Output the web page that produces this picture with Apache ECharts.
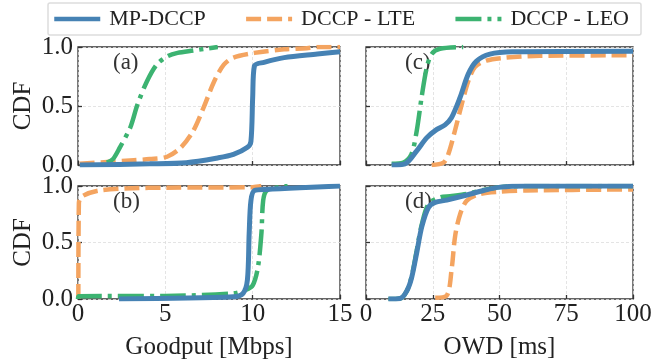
<!DOCTYPE html>
<html>
<head>
<meta charset="utf-8">
<script src="https://cdn.jsdelivr.net/npm/echarts@6/dist/echarts.min.js"></script>
<style>
  html, body { margin: 0; padding: 0; background: #fff; }
  #chart { width: 662px; height: 361px; }
</style>
</head>
<body>
<div id="chart"></div>
<script>
var myChart = echarts.init(document.getElementById('chart'));

var names = ['MP-DCCP', 'DCCP - LTE', 'DCCP - LEO'];
var colors = ['#4682b4', '#f4a460', '#3cb371'];
var panelTags = ['(a)', '(c)', '(b)', '(d)'];
var goodputTicks = [0, 5, 10, 15];
var owdTicks = [0, 25, 50, 75, 100];

// (a) goodput, first scenario  [Mbps, CDF]
var goodputA_mp = [[0.1,0],[4.1,0.01],[6.2,0.02],[8.0,0.06],[8.9,0.09],[9.7,0.15],[9.9,0.2],[10.0,0.57],[10.1,0.84],[10.65,0.87],[11.8,0.91],[13.7,0.94],[15,0.96]];
var goodputA_lte = [[0.1,0.01],[3.2,0.04],[4.1,0.05],[5.1,0.07],[5.9,0.15],[6.6,0.29],[7.2,0.49],[7.8,0.71],[8.35,0.85],[8.9,0.91],[10.1,0.95],[11.8,0.98],[13.1,0.99],[13.8,1],[15,1]];
var goodputA_leo = [[1.65,0.02],[2.0,0.05],[2.4,0.15],[3.0,0.32],[3.4,0.51],[3.95,0.71],[4.5,0.85],[5.1,0.92],[5.7,0.95],[6.6,0.97],[7.5,0.99],[8,1]];

// (b) goodput, second scenario
var goodputB_mp = [[2.35,0],[8.9,0.02],[9.45,0.05],[9.7,0.17],[9.8,0.58],[9.9,0.87],[10.1,0.96],[10.8,0.97],[12.7,0.985],[15,1]];
var goodputB_lte = [[0.02,0],[0.05,0.85],[0.25,0.91],[1.2,0.96],[3.1,0.98],[5.0,0.985],[10,0.99],[10.5,1]];
var goodputB_leo = [[0,0],[0.05,0.025],[5,0.027],[8.9,0.05],[9.6,0.08],[10.0,0.12],[10.3,0.28],[10.5,0.58],[10.6,0.87],[10.8,0.96],[11.5,0.99],[12,1]];

// (c) OWD, first scenario  [ms, CDF]
var owdC_mp = [[9.6,0],[14.6,0.01],[19,0.12],[22.7,0.23],[26.4,0.3],[29.6,0.34],[32,0.4],[35.2,0.57],[38.3,0.77],[41.4,0.88],[46.4,0.94],[55,0.96],[100,0.965]];
var owdC_lte = [[24.6,0],[29,0.02],[30.8,0.09],[33.3,0.29],[35.8,0.51],[38.3,0.71],[40.8,0.83],[45.1,0.885],[52.6,0.91],[65,0.925],[100,0.93]];
var owdC_leo = [[9.6,0.01],[14,0.02],[17,0.09],[19,0.29],[20.8,0.57],[22.7,0.82],[24.6,0.94],[27.7,0.985],[36.4,1]];

// (d) OWD, second scenario
var owdD_mp = [[8.4,0],[12.75,0.005],[15.25,0.07],[17.1,0.19],[19,0.41],[20.9,0.64],[23.4,0.81],[25.9,0.855],[30.25,0.875],[37.75,0.92],[44,0.96],[50.25,0.99],[60,1],[100,1]];
var owdD_lte = [[25.9,0.01],[30.25,0.03],[32.1,0.27],[33.4,0.56],[35.25,0.75],[37.75,0.87],[42.75,0.93],[50.25,0.95],[60,0.96],[100,0.97]];
var owdD_leo = [[8.4,0],[12.75,0.005],[15.25,0.07],[17.1,0.2],[19,0.43],[20.9,0.66],[23.4,0.84],[27.75,0.9],[31.5,0.91],[37.75,0.93],[44,0.965],[50.25,0.99],[60,1],[100,1]];

var panelData = [
  [goodputA_mp, goodputA_lte, goodputA_leo],
  [owdC_mp, owdC_lte, owdC_leo],
  [goodputB_mp, goodputB_lte, goodputB_leo],
  [owdD_mp, owdD_lte, owdD_leo]
];

var font = 'Liberation Serif';
var textColor = '#222';
var lineTypes = ['solid', [15, 6], [26, 6, 4, 6]];
var lineWidths = [5, 4.5, 4.5];

var grids = [
  { left: 78, top: 47, width: 262, height: 118 },
  { left: 366, top: 47, width: 267, height: 118 },
  { left: 78, top: 186, width: 262, height: 117 },
  { left: 366, top: 186, width: 267, height: 117 }
];
grids.forEach(function (g) {
  g.show = true;
  g.borderColor = '#333';
  g.borderWidth = 1.3;
  g.backgroundColor = 'transparent';
});

var xAxes = [], yAxes = [], series = [], graphics = [];
for (var p = 0; p < 4; p++) {
  var isGoodput = (p % 2 === 0);
  var isBottom = (p >= 2);
  var isLeft = isGoodput;
  var ticks = isGoodput ? goodputTicks : owdTicks;
  xAxes.push({
    type: 'value', gridIndex: p,
    min: ticks[0], max: ticks[ticks.length - 1], interval: ticks[1] - ticks[0],
    axisLine: { show: false },
    axisTick: { show: true, inside: true, length: 4, lineStyle: { color: '#333', width: 1.3 } },
    axisLabel: { show: isBottom, fontFamily: font, fontSize: 25, color: textColor, margin: 3, showMaxLabel: true, showMinLabel: true },
    splitLine: { show: true, lineStyle: { color: '#ddd', type: [3, 2], width: 0.8 } },
    name: isBottom ? (isGoodput ? 'Goodput [Mbps]' : 'OWD [ms]') : '',
    nameLocation: 'middle', nameGap: 36,
    nameTextStyle: { fontFamily: font, fontSize: 25, color: textColor }
  });
  yAxes.push({
    type: 'value', gridIndex: p, min: 0, max: 1, interval: 0.5,
    axisLine: { show: false },
    axisTick: { show: true, inside: true, length: 4, lineStyle: { color: '#333', width: 1.3 } },
    axisLabel: { show: isLeft, fontFamily: font, fontSize: 25, color: textColor, margin: 5,
      formatter: function (v) { return v.toFixed(1); } },
    splitLine: { show: true, lineStyle: { color: '#ddd', type: [3, 2], width: 0.8 } },
    name: isLeft ? 'CDF' : '', nameLocation: 'middle', nameGap: 42, nameRotate: 90,
    nameTextStyle: { fontFamily: font, fontSize: 25, color: textColor }
  });
  // draw LTE, LEO first then MP-DCCP on top
  [1, 2, 0].forEach(function (s) {
    series.push({
      name: names[s], type: 'line', xAxisIndex: p, yAxisIndex: p,
      data: panelData[p][s], showSymbol: false, symbol: 'none', smooth: 0.3,
      z: s === 0 ? 5 : 3,
      lineStyle: { color: colors[s], width: lineWidths[s], type: lineTypes[s] },
      itemStyle: { color: colors[s] },
      animation: false
    });
  });
  graphics.push({
    type: 'text', left: grids[p].left + (isGoodput ? 35 : 39), top: grids[p].top + 4,
    style: { text: panelTags[p], font: '23px "' + font + '"', fill: '#333' }
  });
}

option = {
  animation: false,
  legend: {
    data: names,
    left: 48, top: 3,
    padding: [5, 12, 5, 4],
    itemWidth: 46, itemHeight: 12, itemGap: 38,
    itemStyle: { opacity: 0 },
    lineStyle: { width: 4.5 },
    borderColor: '#ddd', borderWidth: 1.5, borderRadius: 2,
    textStyle: { fontFamily: font, fontSize: 22, color: textColor, padding: [0, 0, 0, 4] }
  },
  grid: grids,
  xAxis: xAxes,
  yAxis: yAxes,
  series: series,
  graphic: graphics
};
myChart.setOption(option);
</script>
</body>
</html>
